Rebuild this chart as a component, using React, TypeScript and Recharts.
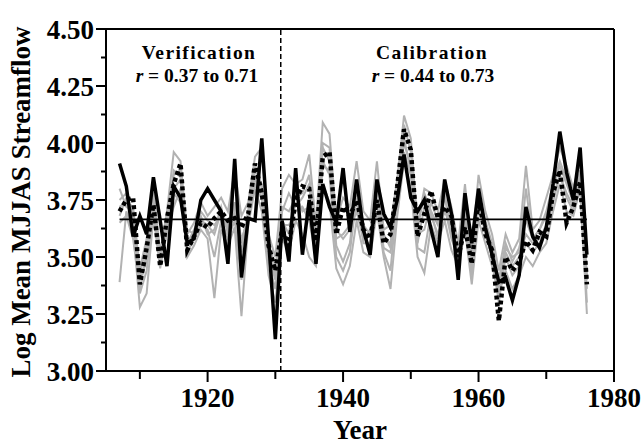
import { Customized, Line, LineChart, ReferenceLine, XAxis, YAxis } from 'recharts'

// streamflow reconstruction: observed vs. reconstructed, grey = alternative models
const YEARS = [
  1907, 1908, 1909, 1910, 1911, 1912, 1913, 1914, 1915, 1916,
  1917, 1918, 1919, 1920, 1921, 1922, 1923, 1924, 1925, 1926,
  1927, 1928, 1929, 1930, 1931, 1932, 1933, 1934, 1935, 1936,
  1937, 1938, 1939, 1940, 1941, 1942, 1943, 1944, 1945, 1946,
  1947, 1948, 1949, 1950, 1951, 1952, 1953, 1954, 1955, 1956,
  1957, 1958, 1959, 1960, 1961, 1962, 1963, 1964, 1965, 1966,
  1967, 1968, 1969, 1970, 1971, 1972, 1973, 1974, 1975, 1976,
]

const OBSERVED = [
  3.91, 3.81, 3.59, 3.68, 3.60, 3.85, 3.66, 3.46, 3.81, 3.76,
  3.56, 3.58, 3.75, 3.80, 3.75, 3.70, 3.47, 3.93, 3.41, 3.67,
  3.66, 4.02, 3.58, 3.14, 3.66, 3.48, 3.89, 3.51, 3.75, 3.47,
  3.82, 3.72, 3.65, 3.89, 3.61, 3.84, 3.62, 3.51, 3.84, 3.69,
  3.63, 3.75, 3.95, 3.76, 3.70, 3.75, 3.62, 3.50, 3.84, 3.69,
  3.40, 3.78, 3.56, 3.80, 3.63, 3.51, 3.39, 3.41, 3.31, 3.42,
  3.72, 3.59, 3.54, 3.63, 3.82, 4.05, 3.87, 3.75, 3.98, 3.51,
]

const RECONSTRUCTED = [
  3.70, 3.75, 3.76, 3.38, 3.54, 3.73, 3.46, 3.67, 3.82, 3.91,
  3.53, 3.59, 3.65, 3.63, 3.67, 3.70, 3.66, 3.67, 3.63, 3.69,
  3.91, 3.78, 3.55, 3.44, 3.62, 3.55, 3.75, 3.81, 3.80, 3.57,
  3.94, 3.96, 3.60, 3.72, 3.68, 3.75, 3.62, 3.58, 3.75, 3.56,
  3.60, 3.81, 4.06, 3.97, 3.59, 3.69, 3.79, 3.67, 3.72, 3.68,
  3.50, 3.63, 3.47, 3.75, 3.60, 3.53, 3.22, 3.50, 3.44, 3.48,
  3.57, 3.53, 3.61, 3.59, 3.78, 3.88, 3.65, 3.72, 3.83, 3.38,
]

const MODEL_A = [
  3.80, 3.72, 3.70, 3.45, 3.58, 3.80, 3.52, 3.70, 3.96, 3.92,
  3.60, 3.65, 3.74, 3.68, 3.72, 3.76, 3.70, 3.88, 3.68, 3.74,
  3.94, 3.98, 3.60, 3.50, 3.80, 3.86, 3.82, 3.84, 3.95, 3.64,
  4.09, 4.04, 3.66, 3.76, 3.72, 3.92, 3.70, 3.66, 3.92, 3.62,
  3.64, 3.84, 4.12, 4.02, 3.64, 3.80, 3.78, 3.70, 3.84, 3.72,
  3.56, 3.82, 3.52, 3.86, 3.70, 3.60, 3.44, 3.60, 3.52, 3.58,
  3.90, 3.62, 3.66, 3.76, 3.86, 3.98, 3.90, 3.80, 3.92, 3.50,
]

const MODEL_B = [
  3.39, 3.70, 3.62, 3.28, 3.34, 3.68, 3.45, 3.62, 3.72, 3.80,
  3.50, 3.55, 3.62, 3.58, 3.32, 3.62, 3.55, 3.63, 3.24, 3.64,
  3.80, 3.70, 3.42, 3.30, 3.58, 3.52, 3.66, 3.60, 3.50, 3.46,
  3.82, 3.74, 3.45, 3.38, 3.46, 3.66, 3.52, 3.50, 3.70, 3.50,
  3.36, 3.68, 3.92, 3.80, 3.50, 3.43, 3.64, 3.56, 3.66, 3.53,
  3.46, 3.62, 3.38, 3.66, 3.56, 3.46, 3.34, 3.44, 3.36, 3.42,
  3.50, 3.46, 3.52, 3.56, 3.70, 3.82, 3.70, 3.68, 3.80, 3.25,
]

const MODEL_C = [
  3.75, 3.78, 3.66, 3.40, 3.48, 3.70, 3.50, 3.64, 3.88, 3.85,
  3.56, 3.62, 3.68, 3.60, 3.62, 3.72, 3.60, 3.70, 3.52, 3.70,
  3.88, 3.82, 3.50, 3.40, 3.70, 3.78, 3.72, 3.76, 3.82, 3.52,
  3.98, 3.92, 3.55, 3.48, 3.56, 3.80, 3.60, 3.54, 3.80, 3.58,
  3.56, 3.78, 4.00, 3.90, 3.62, 3.78, 3.70, 3.64, 3.78, 3.60,
  3.52, 3.70, 3.44, 3.78, 3.66, 3.56, 3.40, 3.56, 3.48, 3.54,
  3.66, 3.58, 3.62, 3.68, 3.80, 3.90, 3.82, 3.74, 3.86, 3.42,
]

const MODEL_D = [
  3.65, 3.68, 3.58, 3.36, 3.52, 3.76, 3.48, 3.60, 3.78, 3.74,
  3.62, 3.60, 3.70, 3.66, 3.64, 3.68, 3.64, 3.72, 3.58, 3.66,
  3.85, 3.75, 3.56, 3.46, 3.66, 3.60, 3.78, 3.70, 3.72, 3.60,
  3.90, 3.88, 3.62, 3.58, 3.62, 3.70, 3.58, 3.62, 3.74, 3.54,
  3.52, 3.74, 3.96, 3.86, 3.56, 3.72, 3.68, 3.60, 3.70, 3.64,
  3.48, 3.66, 3.50, 3.72, 3.62, 3.50, 3.30, 3.52, 3.46, 3.50,
  3.60, 3.56, 3.58, 3.64, 3.76, 3.86, 3.76, 3.70, 3.82, 3.36,
]

const MODEL_E = [
  3.72, 3.74, 3.72, 3.42, 3.56, 3.74, 3.50, 3.66, 3.86, 3.88,
  3.56, 3.60, 3.66, 3.64, 3.60, 3.70, 3.62, 3.74, 3.56, 3.70,
  3.90, 3.80, 3.54, 3.42, 3.72, 3.70, 3.76, 3.78, 3.86, 3.58,
  4.00, 3.98, 3.58, 3.60, 3.64, 3.82, 3.64, 3.60, 3.82, 3.60,
  3.54, 3.80, 4.08, 3.96, 3.60, 3.62, 3.74, 3.66, 3.76, 3.62,
  3.54, 3.72, 3.48, 3.80, 3.64, 3.54, 3.36, 3.54, 3.50, 3.52,
  3.80, 3.58, 3.62, 3.70, 3.82, 3.92, 3.84, 3.76, 3.88, 3.40,
]

const MODEL_F = [
  3.68, 3.76, 3.66, 3.34, 3.44, 3.72, 3.48, 3.64, 3.80, 3.84,
  3.52, 3.58, 3.64, 3.62, 3.50, 3.66, 3.58, 3.66, 3.40, 3.68,
  3.82, 3.76, 3.48, 3.36, 3.64, 3.64, 3.70, 3.72, 3.66, 3.50,
  3.92, 3.86, 3.50, 3.44, 3.52, 3.76, 3.56, 3.56, 3.76, 3.52,
  3.44, 3.76, 4.02, 3.88, 3.54, 3.52, 3.70, 3.58, 3.72, 3.58,
  3.50, 3.66, 3.42, 3.74, 3.60, 3.50, 3.32, 3.50, 3.42, 3.46,
  3.56, 3.52, 3.56, 3.62, 3.74, 3.86, 3.78, 3.72, 3.84, 3.30,
]

const GREY_SERIES = ['modelA', 'modelB', 'modelC', 'modelD', 'modelE', 'modelF']

const MEAN_FLOW = 3.665
const SPLIT_YEAR = 1930.8
const FIRST_YEAR = 1907
const LAST_YEAR = 1976

const Y_TICKS = [3, 3.125, 3.25, 3.375, 3.5, 3.625, 3.75, 3.875, 4, 4.125, 4.25, 4.375, 4.5]
const X_TICKS = [1910, 1920, 1930, 1940, 1950, 1960, 1970, 1980]

const data = YEARS.map((year, i) => ({
  year,
  observed: OBSERVED[i],
  reconstructed: RECONSTRUCTED[i],
  modelA: MODEL_A[i],
  modelB: MODEL_B[i],
  modelC: MODEL_C[i],
  modelD: MODEL_D[i],
  modelE: MODEL_E[i],
  modelF: MODEL_F[i],
}))

const FONT = '"Liberation Serif", "Times New Roman", serif'
const W = 641
const H = 445
const M = { top: 29, right: 27, left: 0, bottom: 0 }
const Y_AXIS_W = 106
const X_AXIS_H = 74

function YTick({ x, y, payload }: any) {
  const v = payload.value as number
  const major = Math.abs(v * 4 - Math.round(v * 4)) < 1e-6
  return (
    <g>
      <line x1={x} x2={x - (major ? 10 : 5)} y1={y} y2={y} stroke="#000" strokeWidth={2} />
      {major && (
        <text x={x - 12} y={y} dy="0.36em" textAnchor="end" fontFamily={FONT} fontWeight="bold" fontSize={27} fill="#000">
          {v.toFixed(2)}
        </text>
      )}
    </g>
  )
}

function XTick({ x, y, payload }: any) {
  const v = payload.value as number
  const major = v % 20 === 0
  return (
    <g>
      <line x1={x} x2={x} y1={y} y2={y + (major ? 11 : 8)} stroke="#000" strokeWidth={2} />
      {major && (
        <text x={x} y={y + 36} textAnchor="middle" fontFamily={FONT} fontWeight="bold" fontSize={27} fill="#000">
          {v}
        </text>
      )}
    </g>
  )
}

function Annotations() {
  const left = M.left + Y_AXIS_W
  const right = W - M.right
  const bottom = H - X_AXIS_H
  const txt = { fontFamily: FONT, fontWeight: 'bold', fill: '#000' } as const
  return (
    <g>
      <text
        transform={`translate(21, ${(M.top + bottom) / 2 + 2}) rotate(-90)`}
        textAnchor="middle"
        dominantBaseline="central"
        fontSize={27}
        {...txt}
      >
        Log Mean MJJAS Streamflow
      </text>
      <text x={(left + right) / 2} y={439} textAnchor="middle" fontSize={27} {...txt}>
        Year
      </text>
      <text x={199} y={59} textAnchor="middle" fontSize={19.5} letterSpacing={1.4} {...txt}>
        Verification
      </text>
      <text x={197} y={82} textAnchor="middle" fontSize={19.5} {...txt}>
        <tspan fontStyle="italic">r</tspan> = 0.37 to 0.71
      </text>
      <text x={432} y={59} textAnchor="middle" fontSize={19.5} letterSpacing={1.4} {...txt}>
        Calibration
      </text>
      <text x={433} y={82} textAnchor="middle" fontSize={19.5} {...txt}>
        <tspan fontStyle="italic">r</tspan> = 0.44 to 0.73
      </text>
    </g>
  )
}

export default function App() {
  return (
    <div style={{ position: 'absolute', left: 0, top: 0, width: W, height: H, background: '#fff' }}>
      <LineChart width={W} height={H} data={data} margin={M}>
        <XAxis
          dataKey="year"
          type="number"
          domain={[1905, 1980]}
          ticks={X_TICKS}
          interval={0}
          tickSize={0}
          tickMargin={0}
          tickLine={false}
          height={X_AXIS_H}
          axisLine={{ stroke: '#000', strokeWidth: 2 }}
          tick={<XTick />}
        />
        <YAxis
          type="number"
          domain={[3, 4.5]}
          ticks={Y_TICKS}
          interval={0}
          tickSize={0}
          tickMargin={0}
          tickLine={false}
          width={Y_AXIS_W}
          axisLine={{ stroke: '#000', strokeWidth: 2 }}
          tick={<YTick />}
        />
        <ReferenceLine y={4.5} stroke="#000" strokeWidth={2} />
        <ReferenceLine x={1980} stroke="#000" strokeWidth={2} />
        {GREY_SERIES.map((key) => (
          <Line
            key={key}
            dataKey={key}
            type="linear"
            stroke="#b2b2b2"
            strokeWidth={2}
            dot={false}
            activeDot={false}
            isAnimationActive={false}
          />
        ))}
        <ReferenceLine
          segment={[
            { x: FIRST_YEAR, y: MEAN_FLOW },
            { x: LAST_YEAR, y: MEAN_FLOW },
          ]}
          stroke="#000"
          strokeWidth={1.6}
        />
        <ReferenceLine x={SPLIT_YEAR} stroke="#000" strokeWidth={1.5} strokeDasharray="5 3" />
        <Line
          dataKey="reconstructed"
          type="linear"
          stroke="#000"
          strokeWidth={4.5}
          strokeDasharray="4 3"
          dot={false}
          activeDot={false}
          isAnimationActive={false}
        />
        <Line
          dataKey="observed"
          type="linear"
          stroke="#000"
          strokeWidth={3.5}
          dot={false}
          activeDot={false}
          isAnimationActive={false}
        />
        <Customized component={Annotations} />
      </LineChart>
    </div>
  )
}
